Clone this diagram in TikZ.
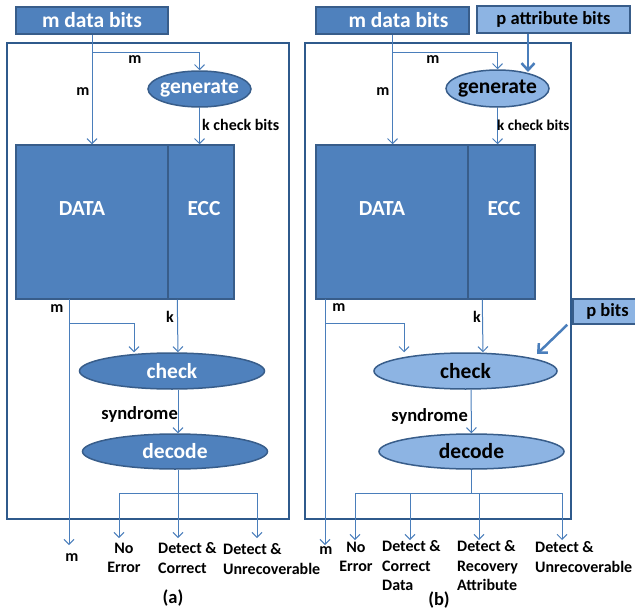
\documentclass[tikz,border=0pt]{standalone}
\usepackage{fontspec}
\setmainfont{Carlito}
\usetikzlibrary{arrows.meta,shapes.geometric}
\definecolor{boxblue}{HTML}{4F81BD}
\definecolor{edgeblue}{HTML}{385D8A}
\definecolor{paleblue}{HTML}{8DB4E3}
\definecolor{wireblue}{HTML}{4A7EBB}
\definecolor{framecol}{HTML}{2F5A8C}
\begin{document}
\begin{tikzpicture}[x=1pt,y=-1pt,
  big/.style={font=\bfseries\fontsize{21.5}{25}\selectfont},
  mid/.style={font=\bfseries\fontsize{18.5}{22}\selectfont},
  small/.style={font=\bfseries\fontsize{16}{19.5}\selectfont},
  tiny/.style={font=\bfseries\fontsize{15}{18}\selectfont},
  darkbox/.style={rectangle, fill=boxblue, draw=edgeblue, line width=1.5pt, text=white, inner sep=0pt},
  palebox/.style={rectangle, fill=paleblue, draw=edgeblue, line width=1.5pt, text=black, inner sep=0pt},
  darkoval/.style={ellipse, fill=boxblue, draw=edgeblue, line width=1.5pt, text=white, inner ysep=0pt, inner xsep=-10pt},
  paleoval/.style={ellipse, fill=paleblue, draw=edgeblue, line width=1.5pt, text=black, inner ysep=0pt, inner xsep=-10pt},
  wire/.style={draw=wireblue, line width=1pt, -{Straight Barb[length=5pt,width=10pt]}},
  wireline/.style={draw=wireblue, line width=1pt},
  feed/.style={draw=wireblue, line width=2.5pt, -{Straight Barb[length=7pt,width=13pt]}},
  frame/.style={draw=framecol, line width=2.5pt},
  lbl/.style={inner sep=0pt, text=black}]
\useasboundingbox (0,0) rectangle (635,613);

% ---------------- panel (a): plain ECC ----------------
\draw[frame] (7,43) rectangle (289,519);
\node[darkbox, big, minimum width=152, minimum height=27] (mA) at (92,20.5) {m data bits};
\node[darkbox, minimum width=152, minimum height=154] (dataA) at (92,222) {};
\node[darkbox, minimum width=66, minimum height=154] (eccA) at (201,222) {};
\node[big, text=white] (dataAt) at (82,209) {DATA};
\node[big, text=white] (eccAt) at (204,209) {ECC};
\node[darkoval, big, minimum width=103, minimum height=36] (genA) at (199.5,89) {generate};
\node[darkoval, big, minimum width=185, minimum height=36] (checkA) at (172,371) {check};
\node[darkoval, big, minimum width=185, minimum height=35] (decA) at (175,451.5) {decode};

% write path
\coordinate (splitA) at (mA.south |- 0,52);
\draw[wire] (mA.south) -- (mA.south |- dataA.north);
\draw[wire] (splitA) -| (genA.north);
\draw[wire] (genA.south) -- (genA.south |- eccA.north);
\node[lbl, small] (mA1) at (135,60) {m};
\node[lbl, small] (mA2) at (83,92) {m};
\node[lbl, small, anchor=west] (kcbA) at (202,125) {k check bits};

% read path
\coordinate (mOutA) at (69,299);
\coordinate (mSplitA) at (69,323);
\coordinate (mEndA) at (69,545);
\draw[wire] (mOutA) -- (mEndA);
\draw[wire] (mSplitA) -| ([xshift=-38pt]checkA.north);
\draw[wire] ([xshift=10pt]eccA.south west) -- ([xshift=6pt]checkA.north);
\draw[wire] ([xshift=6pt]checkA.south) -- ([xshift=3pt]decA.north);
\node[lbl, small] (mA3) at (57,309) {m};
\node[lbl, small] (kA) at (170,317) {k};
\node[lbl, mid, anchor=east] (synA) at (178,414) {syndrome};

% decoder outcomes
\coordinate (fanA) at (178,493);
\coordinate (fanAl) at (119,493);
\coordinate (fanAr) at (257,493);
\coordinate (outA1) at (119,538);
\coordinate (outA2) at (178,538);
\coordinate (outA3) at (257,538);
\draw[wireline] ([xshift=3pt]decA.south) -- (fanA);
\draw[wireline] (fanAl) -- (fanAr);
\draw[wire] (fanAl) -- (outA1);
\draw[wire] (fanA) -- (outA2);
\draw[wire] (fanAr) -- (outA3);
\node[lbl, small] (mA4) at (72,558) {m};
\node[lbl, small, align=center] (noErrA) at (124,558) {No\\Error};
\node[lbl, small, align=left, anchor=west] (dcA) at (158,558) {Detect \&\\Correct};
\node[lbl, small, align=left, anchor=west] (duA) at (223,559) {Detect \&\\Unrecoverable};
\node[lbl, mid] (capA) at (173,598) {(a)};

% ---------------- panel (b): ECC with attribute bits ----------------
\draw[frame] (305,43) rectangle (571,519);
\node[darkbox, big, minimum width=153, minimum height=27] (mB) at (392.5,20.5) {\hspace*{12pt}m data bits};
\node[palebox, mid, minimum width=153, minimum height=27] (pattB) at (553.5,19.5) {p attribute bits};
\node[darkbox, minimum width=152, minimum height=154] (dataB) at (392,222) {};
\node[darkbox, minimum width=67, minimum height=154] (eccB) at (501.5,222) {};
\node[big, text=white] (dataBt) at (382,209) {DATA};
\node[big, text=white] (eccBt) at (504,209) {ECC};
\node[paleoval, big, minimum width=103, minimum height=37] (genB) at (497.5,88.5) {generate};
\node[paleoval, big, minimum width=183, minimum height=36] (checkB) at (465.5,371) {check};
\node[paleoval, big, minimum width=185, minimum height=35] (decB) at (471.5,451.5) {decode};
\node[palebox, mid, minimum width=69, minimum height=25] (pbitsB) at (607.5,311.5) {p bits};

% write path
\coordinate (splitB) at (mB.south |- 0,52);
\coordinate (attTip) at (528,72);
\coordinate (pTip) at (537,354);
\draw[wire] (mB.south) -- (mB.south |- dataB.north);
\draw[wire] (splitB) -| (genB.north);
\draw[feed] (pattB.south -| attTip) -- (attTip);
\draw[wire] (genB.south) -- (genB.south |- eccB.north);
\node[lbl, small] (mB1) at (433,60) {m};
\node[lbl, small] (mB2) at (383,92) {m};
\node[lbl, tiny, anchor=west] (kcbB) at (497,125) {k check bits};

% read path
\coordinate (mOutB) at (325,299);
\coordinate (mSplitB) at (325,323);
\coordinate (mEndB) at (325,545);
\draw[wire] (mOutB) -- (mEndB);
\draw[wire] (mSplitB) -| ([xshift=-61.5pt]checkB.north);
\draw[wire] ([xshift=15pt]eccB.south west) -- ([xshift=17.5pt]checkB.north);
\draw[wire] ([xshift=5.5pt]checkB.south) -- (decB.north);
\draw[feed] ([xshift=-5pt]pbitsB.south west) -- (pTip);
\node[lbl, small] (mB3) at (339,308) {m};
\node[lbl, small] (kB) at (477,317) {k};
\node[lbl, mid, anchor=east] (synB) at (468,416) {syndrome};

% decoder outcomes
\coordinate (fanB) at (471.5,493);
\coordinate (fanB1) at (355,493);
\coordinate (fanB2) at (410,493);
\coordinate (fanB3) at (479,493);
\coordinate (fanB4) at (562,493);
\coordinate (outB1) at (355,540);
\coordinate (outB2) at (410,540);
\coordinate (outB3) at (479,540);
\coordinate (outB4) at (562,540);
\draw[wireline] (decB.south) -- (fanB);
\draw[wireline] (fanB1) -- (fanB4);
\draw[wire] (fanB1) -- (outB1);
\draw[wire] (fanB2) -- (outB2);
\draw[wire] (fanB3) -- (outB3);
\draw[wire] (fanB4) -- (outB4);
\node[lbl, small] (mB4) at (326,551) {m};
\node[lbl, small, align=center] (noErrB) at (356,557) {No\\Error};
\node[lbl, small, align=left, anchor=west] (dcB) at (382,566) {Detect \&\\Correct\\Data};
\node[lbl, small, align=left, anchor=west] (drB) at (457,566) {Detect \&\\Recovery\\Attribute};
\node[lbl, small, align=left, anchor=west] (duB) at (535,557) {Detect \&\\Unrecoverable};
\node[lbl, mid] (capB) at (439,600) {(b)};
\end{tikzpicture}
\end{document}
